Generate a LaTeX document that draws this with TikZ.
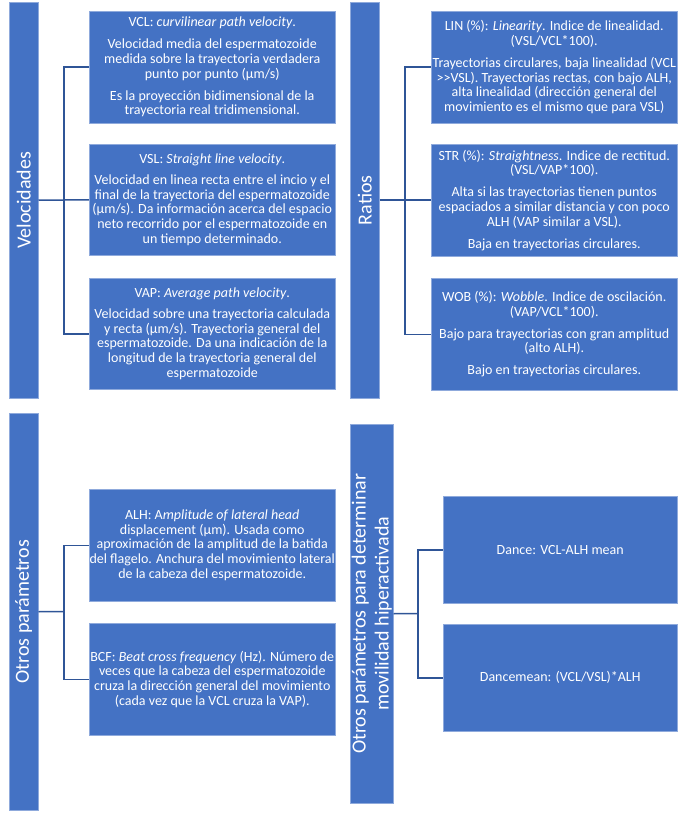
\documentclass[tikz,border=0pt]{standalone}
\usepackage{fontspec}
\setmainfont{Carlito}
\definecolor{boxblue}{RGB}{68,114,196}
\definecolor{edgeblue}{RGB}{143,170,220}
\definecolor{linkblue}{RGB}{47,85,151}
\tikzset{
  bar/.style={fill=boxblue, draw=edgeblue, line width=0.5pt},
  bartext/.style={text=white, rotate=90, font=\fontsize{20}{23}\selectfont, align=center, inner sep=0pt},
  infobox/.style={fill=boxblue, draw=edgeblue, line width=0.5pt, text=white, align=center,
    font=\fontsize{14}{14.8}\selectfont, inner sep=0pt, anchor=north west},
  conn/.style={draw=linkblue, line width=1.5pt},
}
\begin{document}
\begin{tikzpicture}[x=1pt,y=-1pt]
\useasboundingbox (0,0) rectangle (699,818);

% bars
\node[bar, minimum width=29pt, minimum height=396pt, inner sep=0pt, anchor=north west] (vel) at (9,2) {};
\node[bartext] at (vel.center) {Velocidades};
\node[bar, minimum width=29pt, minimum height=396pt, inner sep=0pt, anchor=north west] (rat) at (350,2) {};
\node[bartext] at (rat.center) {Ratios};
\node[bar, minimum width=29pt, minimum height=397pt, inner sep=0pt, anchor=north west] (otr) at (9,413) {};
\node[bartext] at (otr.center) {Otros parámetros};
\node[bar, minimum width=43pt, minimum height=379pt, inner sep=0pt, anchor=north west] (hyp) at (350,424) {};
\node[bartext] at (hyp.center) {Otros parámetros para determinar\\movilidad hiperactivada};

% Velocidades boxes
\node[infobox, minimum width=246pt, minimum height=112pt] (vcl) at (89,11) {VCL: \textit{curvilinear path velocity}.\\[7pt]
Velocidad media del espermatozoide\\
medida sobre la trayectoria verdadera\\
punto por punto (µm/s)\\[7pt]
Es la proyección bidimensional de la\\
trayectoria real tridimensional.};
\node[infobox, minimum width=246pt, minimum height=111pt] (vsl) at (89,144) {VSL: \textit{Straight line velocity}.\\[6pt]
Velocidad en linea recta entre el incio y el\\
final de la trayectoria del espermatozoide\\
(µm/s). Da información acerca del espacio\\
neto recorrido por el espermatozoide en\\
un tiempo determinado.};
\node[infobox, minimum width=246pt, minimum height=111pt] (vap) at (89,278) {VAP: \textit{Average path velocity}.\\[6pt]
Velocidad sobre una trayectoria calculada\\
y recta (µm/s). Trayectoria general del\\
espermatozoide. Da una indicación de la\\
longitud de la trayectoria general del\\
espermatozoide};

% Ratios boxes
\node[infobox, minimum width=246pt, minimum height=112pt] (lin) at (431,11) {LIN (\%): \textit{Linearity}. Indice de linealidad.\\
(VSL/VCL*100).\\[7pt]
Trayectorias circulares, baja linealidad (VCL\\
{>}{>}VSL). Trayectorias rectas, con bajo ALH,\\
alta linealidad (dirección general del\\
movimiento es el mismo que para VSL)};
\node[infobox, minimum width=246pt, minimum height=112pt] (str) at (431,144) {STR (\%): \textit{Straightness}. Indice de rectitud.\\
(VSL/VAP*100).\\[7pt]
Alta si las trayectorias tienen puntos\\
espaciados a similar distancia y con poco\\
ALH (VAP similar a VSL).\\[7pt]
Baja en trayectorias circulares.};
\node[infobox, minimum width=246pt, minimum height=112pt] (wob) at (431,278) {WOB (\%): \textit{Wobble}. Indice de oscilación.\\
(VAP/VCL*100).\\[7pt]
Bajo para trayectorias con gran amplitud\\
(alto ALH).\\[7pt]
Bajo en trayectorias circulares.};

% Otros parametros boxes
\node[infobox, minimum width=246pt, minimum height=112pt] (alh) at (89,489) {ALH: A\textit{mplitude of lateral head}\\
displacement (µm). Usada como\\
aproximación de la amplitud de la batida\\
del flagelo. Anchura del movimiento lateral\\
de la cabeza del espermatozoide.};
\node[infobox, minimum width=246pt, minimum height=112pt] (bcf) at (89,623) {BCF: \textit{Beat cross frequency} (Hz). Número de\\
veces que la cabeza del espermatozoide\\
cruza la dirección general del movimiento\\
(cada vez que la VCL cruza la VAP).};

% hyperactivation boxes
\node[infobox, minimum width=234pt, minimum height=107pt] (dance) at (443,496) {Dance: VCL-ALH mean};
\node[infobox, minimum width=234pt, minimum height=107pt] (dmean) at (443,624) {Dancemean: (VCL/VSL)*ALH};

% connectors
\coordinate (j1) at (64,200);
\coordinate (j2) at (405,200);
\coordinate (j3) at (64,611.5);
\coordinate (j4) at (418,613.5);

\draw[conn] (vel.east) -- (vsl.west);
\draw[conn] (vcl.west) -| (j1) |- (vap.west);

\draw[conn] (rat.east) -- (str.west);
\draw[conn] (lin.west) -| (j2) |- (wob.west);

\draw[conn] (otr.east) -- (j3);
\draw[conn] (alh.west) -| (j3) |- (bcf.west);

\draw[conn] (hyp.east) -- (j4);
\draw[conn] (dance.west) -| (j4) |- (dmean.west);
\end{tikzpicture}
\end{document}
